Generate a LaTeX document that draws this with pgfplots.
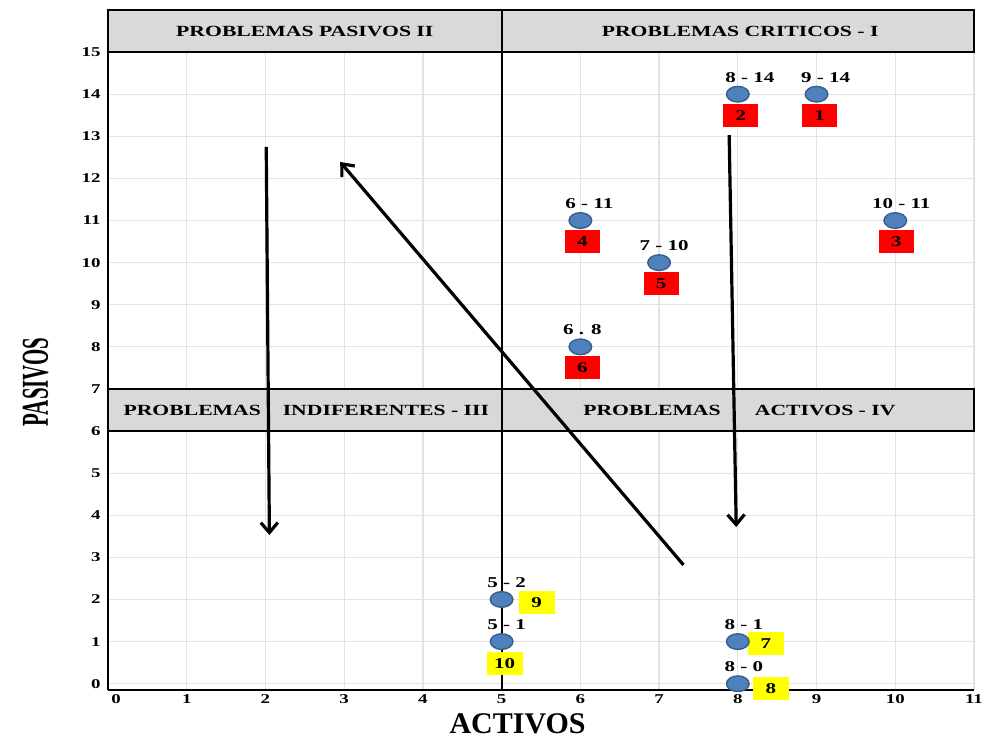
\documentclass[border=0pt]{standalone}
\usepackage{fontspec}
\setmainfont{Liberation Serif}[FakeStretch=1.4]
\newfontfamily\titlefont{Liberation Serif}
\newfontfamily\condfont{Liberation Serif}[FakeStretch=0.55]
\usepackage{pgfplots}
\pgfplotsset{compat=1.18}
\usepackage{pgfplotstable}
\usetikzlibrary{arrows.meta}
\definecolor{band}{HTML}{D9D9D9}
\definecolor{grd}{HTML}{E3E3E3}
\definecolor{ptfill}{HTML}{4F81BD}
\definecolor{ptdraw}{HTML}{385D8A}
\definecolor{redbox}{HTML}{FF0000}
\definecolor{yelbox}{HTML}{FFFF00}

\pgfplotstableread[col sep=comma]{
x,y,lab,lx,bx,by,box
9,14,9 - 14,9,3,-21,1
8,14,8 - 14,12,3,-21,2
10,11,10 - 11,6,1,-21,3
6,11,6 - 11,9,2,-21,4
7,10,7 - 10,5,2,-21,5
6,8,6 . 8,2,2,-21,6
}\redpts
\pgfplotstableread[col sep=comma]{
x,y,lab,lx,bx,by,box
8,1,8 - 1,6,28,-2,7
8,0,8 - 0,6,33,-5,8
5,2,5 - 2,5,35,-3,9
5,1,5 - 1,5,3,-22,10
}\yelpts

\begin{document}
\begin{tikzpicture}
\useasboundingbox (-108pt,-50pt) rectangle (878pt,690pt);
\begin{axis}[
  scale only axis,
  width=866pt, height=680pt,
  xmin=0, xmax=11, ymin=-0.15, ymax=16,
  xtick={0,...,11}, ytick={0,...,15},
  xticklabels={\hspace{16pt}0,1,2,3,4,5,6,7,8,9,10,11},
  axis x line*=bottom, axis y line*=left,
  axis line style={-, black, line width=2pt},
  major tick length=0pt,
  grid=major,
  major grid style={grd, line width=1.2pt},
  clip=false,
  /pgf/number format/assume math mode=true,
  ticklabel style={font=\bfseries\fontsize{13.5}{13.5}\selectfont},
  yticklabel style={xshift=-4pt},
  xticklabel style={yshift=-1pt},
  xlabel={ACTIVOS},
  xlabel style={at={(axis description cs:0.473,0)}, anchor=base, yshift=-43pt,
    font=\titlefont\bfseries\fontsize{30}{30}\selectfont},
  ylabel={PASIVOS},
  ylabel style={at={(axis description cs:-0.0837,0.453)}, anchor=center,
    font=\condfont\bfseries\fontsize{38}{38}\selectfont},
]
% bands
\addplot[fill=band, draw=black, line width=1.8pt] coordinates {(0,15) (11,15) (11,16) (0,16) (0,15)};
\addplot[fill=band, draw=black, line width=1.8pt] coordinates {(0,6) (11,6) (11,7) (0,7) (0,6)};
% vertical divider
\addplot[black, line width=2pt] coordinates {(5,-0.15) (5,16)};
% band titles
\node[font=\bfseries\fontsize{15.5}{15.5}\selectfont] at (axis cs:2.5,15.5) {PROBLEMAS PASIVOS II};
\node[font=\bfseries\fontsize{15.5}{15.5}\selectfont] at (axis cs:8.03,15.5) {PROBLEMAS CRITICOS - I};
\node[font=\bfseries\fontsize{15.5}{15.5}\selectfont] at (axis cs:1.07,6.5) {PROBLEMAS};
\node[font=\bfseries\fontsize{15.5}{15.5}\selectfont] at (axis cs:3.53,6.5) {INDIFERENTES - III};
\node[font=\bfseries\fontsize{15.5}{15.5}\selectfont] at (axis cs:6.91,6.5) {PROBLEMAS};
\node[font=\bfseries\fontsize{15.5}{15.5}\selectfont] at (axis cs:9.11,6.5) {ACTIVOS - IV};
% arrows
\addplot[black, line width=3.2pt, -{Straight Barb[length=10pt,width=17pt]}] coordinates {(2.01,12.75) (2.05,3.53)};
\addplot[black, line width=3.2pt, -{Straight Barb[length=10pt,width=17pt]}] coordinates {(7.31,2.82) (2.95,12.39)};
\addplot[black, line width=3.2pt, -{Straight Barb[length=10pt,width=17pt]}] coordinates {(7.89,13.03) (7.98,3.72)};
% boxes red
\addplot[draw=none, mark=none, nodes near coords, point meta=explicit symbolic,
  visualization depends on={\thisrow{bx} \as \bxv},
  visualization depends on={\thisrow{by} \as \byv},
  nodes near coords style={anchor=center, xshift=\bxv pt, yshift=\byv pt, fill=redbox,
    minimum width=35pt, minimum height=23pt, inner sep=0pt,
    font=\bfseries\fontsize{15}{15}\selectfont, text=black}]
  table[x=x, y=y, meta=box] {\redpts};
% boxes yellow
\addplot[draw=none, mark=none, nodes near coords, point meta=explicit symbolic,
  visualization depends on={\thisrow{bx} \as \bxv},
  visualization depends on={\thisrow{by} \as \byv},
  nodes near coords style={anchor=center, xshift=\bxv pt, yshift=\byv pt, fill=yelbox,
    minimum width=36pt, minimum height=23pt, inner sep=0pt,
    font=\bfseries\fontsize{15}{15}\selectfont, text=black}]
  table[x=x, y=y, meta=box] {\yelpts};
% points and their labels
\addplot[only marks, mark=*, mark size=7.8pt,
  mark options={xscale=1.45, fill=ptfill, draw=ptdraw, line width=1.4pt},
  nodes near coords, point meta=explicit symbolic,
  visualization depends on={\thisrow{lx} \as \lxv},
  nodes near coords style={anchor=center, xshift=\lxv pt, yshift=17pt,
    font=\bfseries\fontsize{15}{15}\selectfont, text=black}]
  table[x=x, y=y, meta=lab] {\redpts};
\addplot[only marks, mark=*, mark size=7.8pt,
  mark options={xscale=1.45, fill=ptfill, draw=ptdraw, line width=1.4pt},
  nodes near coords, point meta=explicit symbolic,
  visualization depends on={\thisrow{lx} \as \lxv},
  nodes near coords style={anchor=center, xshift=\lxv pt, yshift=17pt,
    font=\bfseries\fontsize{15}{15}\selectfont, text=black}]
  table[x=x, y=y, meta=lab] {\yelpts};
\end{axis}
\end{tikzpicture}
\end{document}
